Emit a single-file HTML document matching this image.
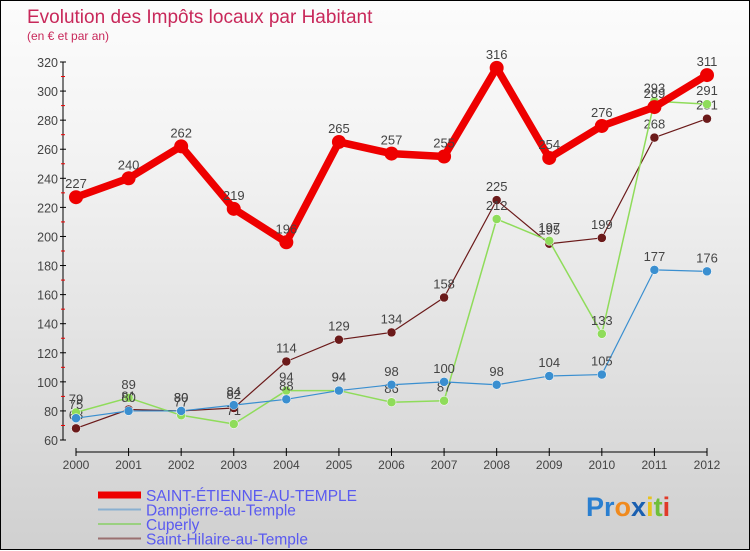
<!DOCTYPE html>
<html><head><meta charset="utf-8"><style>
body{margin:0;width:750px;height:550px;overflow:hidden;font-family:"Liberation Sans",sans-serif}
#wrap{position:relative;width:748px;height:548px;border:1px solid #000;background:linear-gradient(#fcfcfc,#f2f2f2 30%,#d0d0d0)}
svg{position:absolute;left:0;top:0}
</style></head><body>
<div id="wrap">
<svg id="chart" width="750" height="550">
<text x="26" y="22" font-size="19" fill="#c8285a">Evolution des Impôts locaux par Habitant</text>
<text x="26" y="39" font-size="12" fill="#c8285a">(en € et par an)</text>
<g id="axes"></g><g id="series"></g><g id="legend"></g>
<g font-size="27" font-weight="bold">
<text x="585" y="515"><tspan fill="#2a7fd0">Pr</tspan><tspan fill="#f08a1e">o</tspan><tspan fill="#1a5fb0">x</tspan><tspan fill="#e8c21e">i</tspan><tspan fill="#6fbf3a">t</tspan><tspan fill="#e03a2a">i</tspan></text>
</g>
</svg></div>
<script>
const years=[2000,2001,2002,2003,2004,2005,2006,2007,2008,2009,2010,2011,2012];
const yTicks=[60,80,100,120,140,160,180,200,220,240,260,280,300,320];
const stEtienne=[227,240,262,219,196,265,257,255,316,254,276,289,311];
const dampierre=[75,80,80,84,88,94,98,100,98,104,105,177,176];
const cuperly=[79,89,77,71,94,94,86,87,212,197,133,293,291];
const stHilaire=[68,81,80,82,114,129,134,158,225,195,199,268,281];
const NS='http://www.w3.org/2000/svg';
const x=i=>75+i*(706-75)/(years.length-1);
const y=v=>439-(v-60)*(439-61)/260;
function mk(p,t,a){const e=document.createElementNS(NS,t);for(const k in a)e.setAttribute(k,a[k]);p.appendChild(e);return e;}
const ax=document.getElementById('axes');
let e=mk(ax,'line',{x1:62,y1:61,x2:62,y2:439,stroke:'#000'});


e=mk(ax,'line',{x1:x(0),y1:451,x2:x(years.length-1),y2:451,stroke:'#000'});


yTicks.forEach((t,i)=>{
 mk(ax,'line',{x1:59,x2:65,y1:y(t),y2:y(t),stroke:'#000'});
 if(i<yTicks.length-1)mk(ax,'line',{x1:60,x2:64,y1:y(t+10),y2:y(t+10),stroke:'#e00'});
 e=mk(ax,'text',{x:57,y:y(t)+5,'text-anchor':'end','font-size':12.5,fill:'#444'});e.textContent=t;
 
 
});
years.forEach((yr,i)=>{
 mk(ax,'line',{x1:x(i),x2:x(i),y1:447,y2:455,stroke:'#000'});
 e=mk(ax,'text',{x:x(i),y:468,'text-anchor':'middle','font-size':12,fill:'#444'});e.textContent=yr;
 
 
});
const sg=document.getElementById('series');
function draw(data,color,w,r,name){
 const g=mk(sg,'g',{});
 
 
 mk(g,'polyline',{points:data.map((v,i)=>x(i)+','+y(v)).join(' '),fill:'none',stroke:color,'stroke-width':w,'stroke-linejoin':'round'});
 data.forEach((v,i)=>{
  const c=mk(g,'circle',{cx:x(i),cy:y(v),r:r,fill:color,stroke:r<6?'#fff':'none','stroke-width':0.5});
  
  
  const t=mk(g,'text',{x:x(i),y:y(v)-9,'text-anchor':'middle','font-size':13,fill:'#444'});t.textContent=v;
 });
}
draw(stHilaire,'#6b1a1a',1.2,4.5,'saint-hilaire');
draw(cuperly,'#8fdc5a',1.5,4.5,'cuperly');
draw(dampierre,'#3a8fd0',1.2,4.5,'dampierre');
draw(stEtienne,'#ee0000',7.5,7,'saint-etienne');
const lg=document.getElementById('legend');
[['SAINT-ÉTIENNE-AU-TEMPLE','#ee0000',7],['Dampierre-au-Temple','#8ab0d0',2],['Cuperly','#9ad080',2],['Saint-Hilaire-au-Temple','#9a7070',2]].forEach((d,i)=>{
 const yy=494+i*14.5;
 const g=mk(lg,'g',{});
 
 
 mk(g,'line',{x1:97,x2:140,y1:yy,y2:yy,stroke:d[1],'stroke-width':d[2]});
 const t=mk(g,'text',{x:145,y:yy+6,'font-size':15.5,fill:'#5a5af0'});t.textContent=d[0];
});
</script>
</body></html>
